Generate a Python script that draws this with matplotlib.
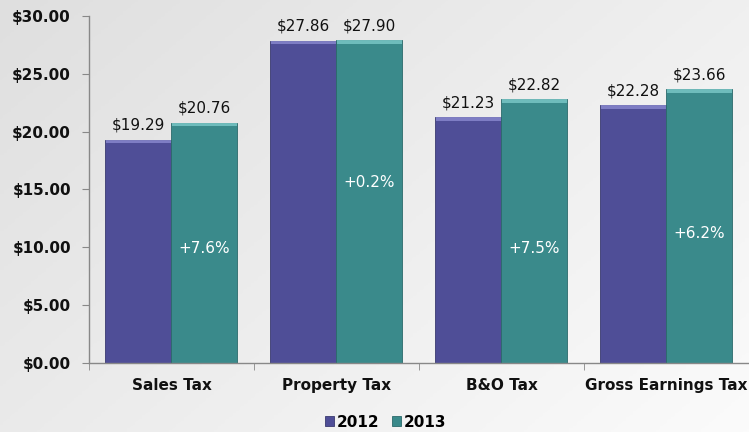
import matplotlib
matplotlib.use("Agg")
import matplotlib.pyplot as plt
import numpy as np

categories = ["Sales Tax", "Property Tax", "B&O Tax", "Gross Earnings Tax"]
values_2012 = [19.29, 27.86, 21.23, 22.28]
values_2013 = [20.76, 27.90, 22.82, 23.66]
pct_labels = ["+7.6%", "+0.2%", "+7.5%", "+6.2%"]
series_names = ["2012", "2013"]
yticks = [0, 5, 10, 15, 20, 25, 30]

# layout (not data): vertical placement of the change labels
pct_y = [9.9, 15.6, 9.9, 11.2]

c2012 = "#4f4e97"
c2013 = "#3a8a8b"
hi2012 = "#8a89d0"
hi2013 = "#7cc9c9"

fig = plt.figure(figsize=(7.49, 4.32), dpi=100)
# background gradient: darker top-left, lighter bottom-right
bg = fig.add_axes([0, 0, 1, 1], zorder=-10)
xx, yy = np.meshgrid(np.linspace(0, 1, 200), np.linspace(0, 1, 200))
grad = 0.6 * xx + 0.4 * (1 - yy)
bg.imshow(grad, cmap=matplotlib.colors.LinearSegmentedColormap.from_list("g", ["#dfdfdf", "#fbfbfb"]),
          extent=[0, 1, 0, 1], aspect="auto", origin="lower")
bg.axis("off")

ax = fig.add_axes([0.1188, 0.1597, 0.8812, 0.8033])
ax.set_facecolor("none")
x = np.arange(len(categories))
w = 0.4
b1 = ax.bar(x - w / 2, values_2012, w, color=c2012, edgecolor="#3a3a70", linewidth=0.6, label=series_names[0])
b2 = ax.bar(x + w / 2, values_2013, w, color=c2013, edgecolor="#2b6a6b", linewidth=0.6, label=series_names[1])

# bevel highlight on top
for bars, hc in ((b1, hi2012), (b2, hi2013)):
    for r in bars:
        ax.bar(r.get_x() + r.get_width() / 2, 0.3, r.get_width() * 0.98, bottom=r.get_height() - 0.3,
               color=hc, linewidth=0, alpha=0.8)

for xi, v in zip(x - w / 2, values_2012):
    ax.annotate(f"${v:.2f}", (xi, v), xytext=(0, 5), textcoords="offset points",
                ha="center", va="bottom", fontsize=11, color="#111111")
for xi, v in zip(x + w / 2, values_2013):
    ax.annotate(f"${v:.2f}", (xi, v), xytext=(0, 5), textcoords="offset points",
                ha="center", va="bottom", fontsize=11, color="#111111")
for xi, t, yy_ in zip(x + w / 2, pct_labels, pct_y):
    ax.text(xi, yy_, t, ha="center", va="center", fontsize=11, color="white")

ax.set_xlim(-0.5, len(categories) - 0.5)
ax.set_ylim(0, 30)
ax.set_yticks(yticks)
ax.set_yticklabels([f"${t:.2f}" for t in yticks], fontsize=11, fontweight="bold", color="#111111")
ax.set_xticks(x)
ax.set_xticklabels(categories, fontsize=11, fontweight="bold", color="#111111")
ax.tick_params(axis="x", length=0, pad=11)
ax.set_xticks(np.arange(-0.5, len(categories) + 0.5, 1), minor=True)
ax.tick_params(axis="x", which="minor", length=5, color="#888888", direction="out")
ax.tick_params(axis="y", length=5, color="#888888", direction="out", pad=8)
for s in ("top", "right"):
    ax.spines[s].set_visible(False)
for s in ("left", "bottom"):
    ax.spines[s].set_color("#888888")
    ax.spines[s].set_linewidth(1)

leg = fig.legend(handles=[b1, b2], labels=series_names, loc="center", bbox_to_anchor=(0.515, 0.023),
                 ncol=2, frameon=False, prop={"weight": "bold", "size": 11},
                 handlelength=0.6, handleheight=0.6, handletextpad=0.2, columnspacing=0.8)

fig.savefig("out.png", dpi=100)
